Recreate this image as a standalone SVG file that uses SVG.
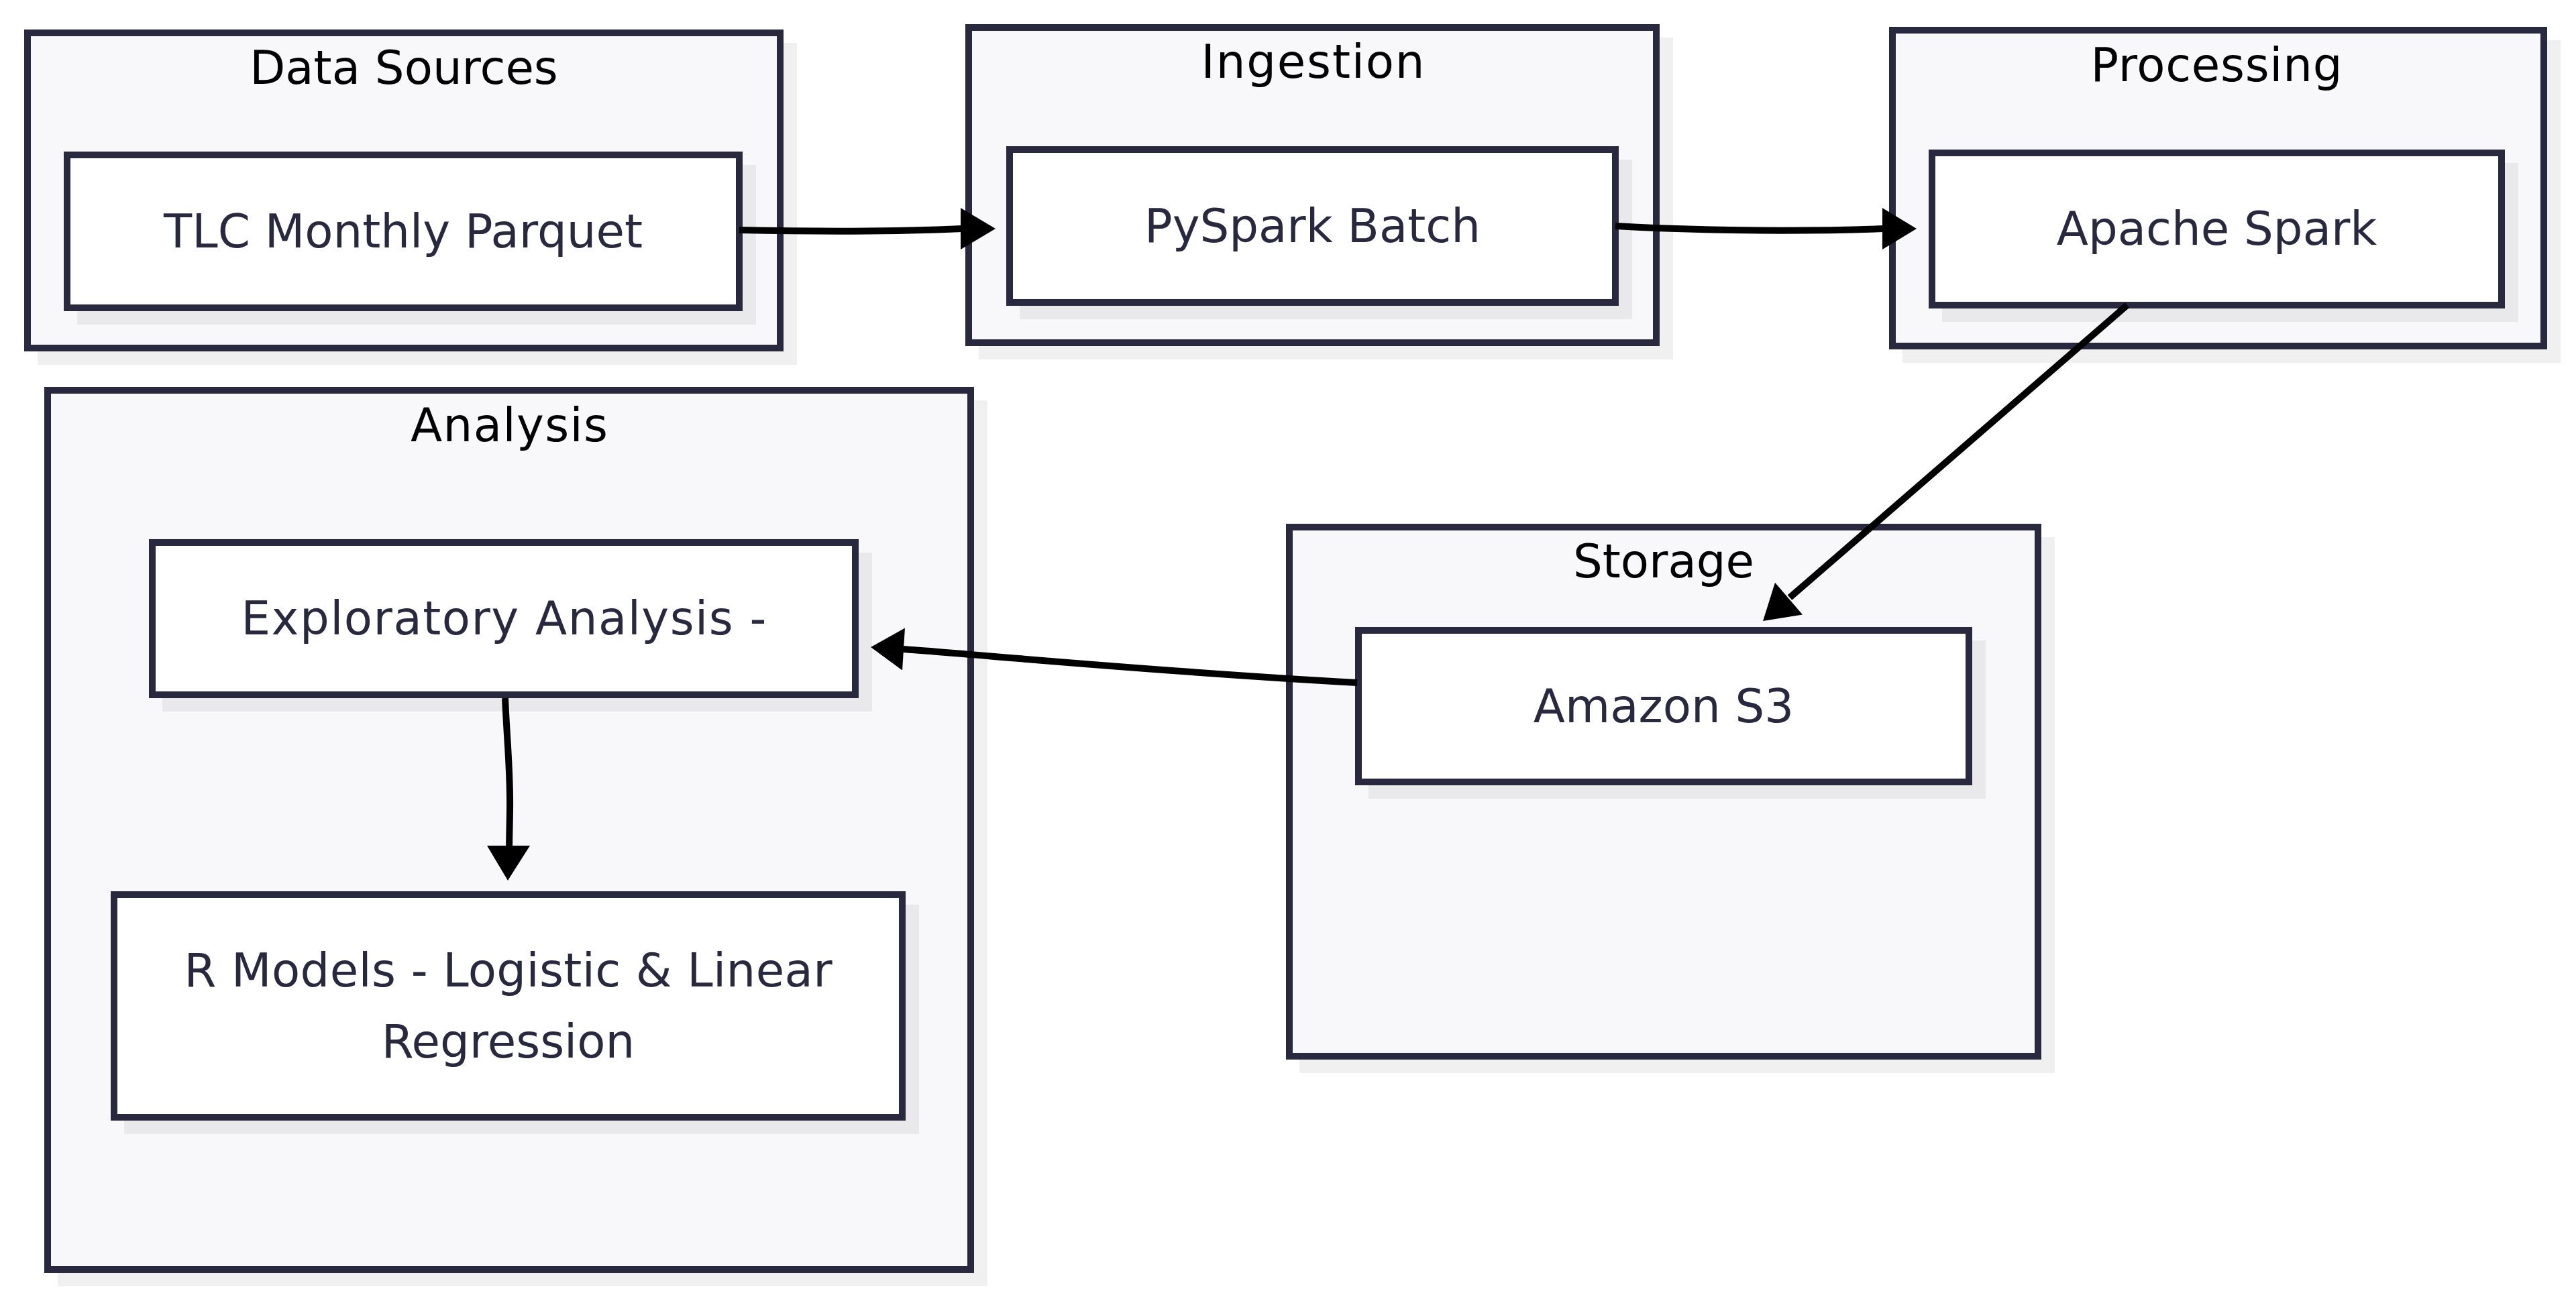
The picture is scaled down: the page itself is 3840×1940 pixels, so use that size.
<svg xmlns="http://www.w3.org/2000/svg" width="3840" height="1940" viewBox="0 0 3840 1940">
<style>
.bg{fill:#ffffff}
.shadow{fill:#000000;fill-opacity:0.06}
.cluster{fill:#f8f8fa;stroke:#28283f;stroke-width:10}
.node{fill:#ffffff;stroke:#28283f;stroke-width:10}
.title{font-family:"DejaVu Sans",sans-serif;font-size:69px;fill:#000000;text-anchor:middle}
.label{font-family:"DejaVu Sans",sans-serif;font-size:69px;fill:#28283f;text-anchor:middle}
.edge{fill:none;stroke:#000000;stroke-width:10}
.head{fill:#000000}
</style>
<rect class="bg" x="0" y="0" width="3840" height="1940"/>

<g id="cluster-data-sources">
<rect class="shadow" x="56" y="64" width="1132" height="480"/>
<rect class="cluster" x="41" y="49" width="1122" height="470"/>
<text class="title" x="602" y="125">Data Sources</text>
</g>
<g id="node-tlc">
<rect class="shadow" x="115" y="246" width="1012" height="238"/>
<rect class="node" x="100" y="231" width="1002" height="228"/>
<text class="label" x="601" y="369">TLC Monthly Parquet</text>
</g>

<g id="cluster-ingestion">
<rect class="shadow" x="1459" y="56" width="1035" height="480"/>
<rect class="cluster" x="1444" y="41" width="1025" height="470"/>
<text class="title" x="1957" y="116" textLength="333" lengthAdjust="spacing">Ingestion</text>
</g>
<g id="node-pyspark">
<rect class="shadow" x="1520" y="238" width="913" height="238"/>
<rect class="node" x="1505" y="223" width="903" height="228"/>
<text class="label" x="1956.5" y="361">PySpark Batch</text>
</g>

<g id="cluster-processing">
<rect class="shadow" x="2836" y="60" width="981" height="481"/>
<rect class="cluster" x="2821" y="45" width="971" height="471"/>
<text class="title" x="3304" y="121" textLength="375" lengthAdjust="spacing">Processing</text>
</g>
<g id="node-spark">
<rect class="shadow" x="2895" y="243" width="859" height="237"/>
<rect class="node" x="2880" y="228" width="849" height="227"/>
<text class="label" x="3304.5" y="365">Apache Spark</text>
</g>

<g id="cluster-storage">
<rect class="shadow" x="1937" y="801" width="1126" height="799"/>
<rect class="cluster" x="1922" y="786" width="1116" height="789"/>
<text class="title" x="2480" y="861">Storage</text>
</g>
<g id="node-s3">
<rect class="shadow" x="2040" y="955" width="920" height="236"/>
<rect class="node" x="2025" y="940" width="910" height="226"/>
<text class="label" x="2480" y="1077">Amazon S3</text>
</g>

<g id="cluster-analysis">
<rect class="shadow" x="86" y="597" width="1386" height="1321"/>
<rect class="cluster" x="71" y="582" width="1376" height="1311"/>
<text class="title" x="759" y="658" textLength="294" lengthAdjust="spacing">Analysis</text>
</g>
<g id="node-exploratory">
<rect class="shadow" x="242" y="824" width="1058" height="237"/>
<rect class="node" x="227" y="809" width="1048" height="227"/>
<text class="label" x="751" y="946" textLength="783" lengthAdjust="spacing">Exploratory Analysis -</text>
</g>
<g id="node-rmodels">
<rect class="shadow" x="185" y="1349" width="1185" height="342"/>
<rect class="node" x="170" y="1334" width="1175" height="332"/>
<text class="label" x="757.5" y="1471" textLength="966" lengthAdjust="spacing">R Models - Logistic &amp; Linear</text>
<text class="label" x="757.5" y="1577">Regression</text>
</g>

<g id="connectors">
<path class="edge" d="M1102,343 C1250,346 1350,345 1434,341"/>
<polygon class="head" points="1432,310 1484,341 1432,372"/>
<path class="edge" d="M2408,337 C2550,345 2700,345 2808,341"/>
<polygon class="head" points="2806,310 2857,341 2806,372"/>
<path class="edge" d="M3171,455 L2668,891"/>
<polygon class="head" points="2687,916.4 2628,926 2646,868.8"/>
<path class="edge" d="M2023,1018 C1700,1000 1450,975 1346,968"/>
<polygon class="head" points="1349,936.6 1298,965 1345,999.4"/>
<path class="edge" d="M753,1041 C756,1110 761,1150 760,1210 L759,1263"/>
<polygon class="head" points="726,1261 790,1261 757,1313"/>
</g>
</svg>
